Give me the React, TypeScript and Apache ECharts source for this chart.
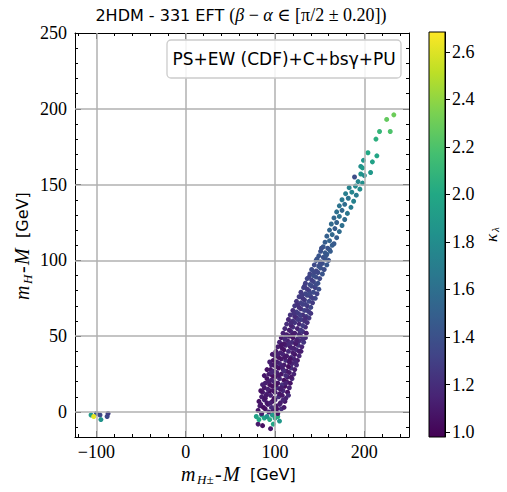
import React, { useEffect, useRef } from 'react';
import * as echarts from 'echarts';

// ---- axis / tick definitions ----
const xTicks = [-100, 0, 100, 200];
const xMinor = [-120, -80, -60, -40, -20, 20, 40, 60, 80, 120, 140, 160, 180, 220, 240];
const yTicks = [0, 50, 100, 150, 200, 250];
const yMinor = [-10, 10, 20, 30, 40, 60, 70, 80, 90, 110, 120, 130, 140, 160, 170, 180, 190, 210, 220, 230, 240];
const cbTicks = [1.0, 1.2, 1.4, 1.6, 1.8, 2.0, 2.2, 2.4, 2.6];
const X_MIN = -124, X_MAX = 250, Y_MIN = -16.5, Y_MAX = 250, K_MIN = 0.979, K_MAX = 2.684;

// ---- data: [m_H± - M, m_H - M, kappa_lambda] ----
const leftCluster = [
  [-106, -2, 1.9], [-100, -1, 1.45], [-96, -2, 1.35], [-95, -5, 1.85], [-88, -3, 1.35], [-87, -1, 1.3], [-103, -3, 2.62],
];
const bandLow = [
  [81, 1, 1.08], [85, -1, 1.12], [89, 2, 1.05], [93, 0, 1.15], [98, 1, 1.1], [103, -1, 1.07], [107, 2, 1.2],
  [83, 4, 1.1], [87, 3, 1.04], [92, 5, 1.12], [96, 3, 1.18], [101, 4, 1.06], [105, 5, 1.13], [110, 3, 1.1],
  [82, 7, 1.06], [88, 8, 1.15], [91, 6, 1.09], [97, 7, 1.03], [100, 8, 1.16], [106, 6, 1.11], [111, 7, 1.08],
  [85, 10, 1.12], [89, 9, 1.07], [95, 11, 1.14], [99, 9, 1.05], [104, 10, 1.2], [108, 11, 1.09], [112, 9, 1.13],
  [86, 13, 1.1], [91, 12, 1.16], [94, 14, 1.04], [100, 13, 1.12], [105, 12, 1.08], [109, 14, 1.17], [114, 13, 1.06],
  [88, 16, 1.09], [92, 15, 1.13], [97, 17, 1.06], [102, 16, 1.19], [106, 15, 1.1], [111, 17, 1.05], [116, 16, 1.14],
  [89, 19, 1.12], [94, 18, 1.05], [99, 20, 1.15], [103, 19, 1.08], [108, 18, 1.22], [113, 20, 1.1], [117, 19, 1.07],
  [91, 22, 1.06], [96, 21, 1.14], [100, 23, 1.09], [105, 22, 1.17], [110, 21, 1.05], [114, 23, 1.12], [119, 22, 1.18],
  [93, 25, 1.1], [97, 24, 1.05], [102, 26, 1.13], [107, 25, 1.08], [112, 24, 1.2], [116, 26, 1.11], [121, 25, 1.15],
  [95, 28, 1.08], [99, 27, 1.16], [104, 29, 1.04], [109, 28, 1.13], [113, 27, 1.09], [118, 29, 1.21], [122, 28, 1.12],
  [96, 31, 1.13], [101, 30, 1.07], [105, 32, 1.17], [110, 31, 1.1], [115, 30, 1.05], [119, 32, 1.15], [124, 31, 1.18],
  [98, 34, 1.05], [102, 33, 1.12], [107, 35, 1.09], [112, 34, 1.19], [116, 33, 1.07], [121, 35, 1.14], [125, 34, 1.1],
  [100, 37, 1.11], [104, 36, 1.06], [109, 38, 1.15], [113, 37, 1.1], [118, 36, 1.22], [122, 38, 1.08], [127, 37, 1.16],
  [101, 40, 1.09], [106, 39, 1.14], [110, 41, 1.06], [115, 40, 1.18], [120, 39, 1.11], [124, 41, 1.2], [129, 40, 1.13],
  [103, 43, 1.12], [108, 42, 1.07], [112, 44, 1.16], [117, 43, 1.1], [121, 42, 1.14], [126, 44, 1.23], [130, 43, 1.15],
  [105, 46, 1.15], [110, 45, 1.09], [114, 47, 1.13], [119, 46, 1.2], [123, 45, 1.1], [127, 47, 1.17], [132, 46, 1.24],
  [107, 49, 1.1], [111, 48, 1.18], [116, 50, 1.12], [120, 49, 1.07], [125, 48, 1.21], [129, 50, 1.15], [134, 49, 1.19],
  [109, 52, 1.14], [113, 51, 1.1], [118, 53, 1.19], [122, 52, 1.13], [127, 51, 1.16], [131, 53, 1.22], [135, 52, 1.12],
];
const bandLowExtra = [
  [84, 5, 1.09], [95, 6, 1.13], [102, 2, 1.06], [109, 8, 1.15], [90, 11, 1.1], [98, 14, 1.07], [107, 16, 1.12],
  [115, 11, 1.18], [84, 14, 1.06], [93, 20, 1.11], [101, 18, 1.05], [112, 19, 1.14], [118, 23, 1.09], [96, 26, 1.16],
  [104, 24, 1.1], [110, 27, 1.2], [99, 31, 1.08], [108, 30, 1.13], [117, 35, 1.06], [123, 33, 1.17], [103, 38, 1.12],
  [111, 36, 1.09], [119, 42, 1.15], [127, 40, 1.11], [107, 44, 1.07], [116, 45, 1.18], [124, 47, 1.13], [131, 48, 1.21],
  [112, 50, 1.16], [120, 51, 1.1], [128, 53, 1.19], [86, 18, 1.13], [88, 24, 1.08], [91, 28, 1.06], [94, 33, 1.12],
  [97, 38, 1.1],
];
const bandMid = [
  [111, 55, 1.18], [116, 54, 1.12], [120, 56, 1.22], [125, 55, 1.15], [129, 54, 1.25], [134, 56, 1.2],
  [113, 58, 1.2], [118, 57, 1.14], [122, 59, 1.24], [127, 58, 1.17], [131, 57, 1.27], [136, 59, 1.21],
  [115, 61, 1.16], [120, 60, 1.23], [124, 62, 1.19], [129, 61, 1.28], [133, 60, 1.22], [138, 62, 1.25],
  [117, 64, 1.22], [122, 63, 1.18], [126, 65, 1.26], [131, 64, 1.21], [135, 63, 1.3], [140, 65, 1.24],
  [120, 67, 1.2], [124, 66, 1.27], [129, 68, 1.23], [133, 67, 1.31], [138, 66, 1.26],
  [122, 70, 1.25], [127, 69, 1.21], [131, 71, 1.29], [136, 70, 1.24], [140, 69, 1.33],
  [124, 73, 1.23], [129, 72, 1.3], [133, 74, 1.26], [138, 73, 1.34], [142, 72, 1.28],
  [127, 76, 1.28], [131, 75, 1.24], [136, 77, 1.32], [140, 76, 1.29], [145, 75, 1.36],
  [129, 79, 1.26], [134, 78, 1.33], [138, 80, 1.3], [143, 79, 1.37], [147, 78, 1.32],
  [132, 82, 1.31], [136, 81, 1.28], [141, 83, 1.35], [145, 82, 1.3], [149, 81, 1.38],
  [134, 85, 1.3], [139, 84, 1.36], [143, 86, 1.33], [148, 85, 1.4],
  [136, 88, 1.34], [141, 87, 1.31], [146, 89, 1.38], [150, 88, 1.35],
  [139, 91, 1.33], [143, 90, 1.39], [148, 92, 1.36], [153, 91, 1.42],
  [141, 94, 1.37], [146, 93, 1.34], [151, 95, 1.41], [155, 94, 1.38],
  [144, 97, 1.36], [149, 96, 1.42], [153, 98, 1.39], [158, 97, 1.45],
  [146, 100, 1.4], [151, 99, 1.37], [156, 101, 1.44], [160, 100, 1.41],
  [149, 103, 1.43], [154, 102, 1.4], [158, 104, 1.47],
  [151, 106, 1.41], [156, 105, 1.46], [161, 107, 1.44],
  [154, 109, 1.45], [159, 108, 1.42], [164, 110, 1.49],
];
const bandMidExtra = [
  [118, 59, 1.19], [126, 61, 1.25], [134, 62, 1.2], [121, 65, 1.23], [128, 64, 1.28], [136, 67, 1.27],
  [125, 71, 1.22], [134, 71, 1.3], [142, 75, 1.31], [130, 77, 1.27], [139, 78, 1.35], [133, 83, 1.29],
  [146, 84, 1.37], [138, 89, 1.32], [144, 92, 1.35], [150, 97, 1.38], [147, 101, 1.42], [157, 103, 1.44],
  [152, 108, 1.4], [162, 106, 1.47],
];
const bandHigh = [
  [156, 112, 1.48], [161, 113, 1.52], [166, 111, 1.46], [158, 116, 1.5], [164, 117, 1.55], [169, 115, 1.49],
  [161, 120, 1.53], [167, 121, 1.47], [172, 119, 1.58], [163, 124, 1.56], [169, 125, 1.51], [175, 123, 1.6],
  [166, 128, 1.54], [172, 129, 1.62], [178, 127, 1.57], [169, 132, 1.6], [175, 133, 1.55], [181, 131, 1.65],
  [172, 136, 1.63], [178, 137, 1.58], [185, 135, 1.68], [175, 140, 1.66], [182, 141, 1.62], [188, 139, 1.72],
  [179, 144, 1.7], [186, 145, 1.75], [191, 143, 1.68], [183, 148, 1.73], [190, 149, 1.78], [195, 147, 1.8],
  [189, 155, 1.38], [193, 152, 1.76], [198, 151, 1.82], [196, 157, 1.85], [200, 156, 1.8],
  [196, 162, 1.82], [199, 166, 1.86], [198, 161, 1.9], [207, 158, 1.88],
];
const topPoints = [
  [204, 171, 2.0], [209, 165, 1.95], [214, 169, 1.98], [213, 180, 2.05], [217, 185, 2.1],
  [229, 185, 2.2], [225, 193, 2.27], [233, 196, 2.3],
];
const bottomRow = [
  [81, -8, 1.1], [86, -9, 1.05], [95, -11, 1.08],
  [79, -3, 1.95], [82, -5, 2.0], [85, -2, 1.9], [88, -4, 1.97], [91, -3, 1.85], [94, -5, 2.02],
  [97, -2, 1.9], [100, -4, 1.95], [103, -3, 2.05], [98, -8, 1.98], [105, -6, 1.88],
];

const viridis = ['#440154', '#482475', '#414487', '#355f8d', '#2a788e', '#21918c', '#22a884', '#44bf70', '#7ad151', '#bddf26', '#fde725'];

const SERIF = '"Liberation Serif", "DejaVu Serif", serif';
const SANS = '"DejaVu Sans", "Liberation Sans", sans-serif';
const GRID = { left: 75, top: 33, width: 334, height: 404 };
const CB = { left: 429, top: 32, width: 16, height: 405 };

function fmt(v: number) {
  return v < 0 ? '\u2212' + Math.abs(v) : String(v);
}

function axisBase(extra: any) {
  return {
    type: 'value',
    splitLine: { show: false },
    axisLine: { show: false, onZero: false, lineStyle: { color: '#000', width: 1 } },
    ...extra,
  };
}

// label made of pieces laid out horizontally in local coordinates
function mathLabel(pieces: { t: string; font: string; dx: number; dy: number }[], x: number, y: number, rotation: number) {
  return {
    type: 'group', x, y, rotation, z: 20,
    children: pieces.map((p) => ({
      type: 'text', x: p.dx, y: p.dy, z: 20,
      style: { text: p.t, font: p.font, fill: '#000', align: 'left', verticalAlign: 'middle' },
    })),
  };
}

const IT = `italic 20px ${SERIF}`;
const SUB = `italic 13px ${SERIF}`;
const GEV = `16px ${SANS}`;

export default function App() {
  const ref = useRef<HTMLDivElement>(null);
  useEffect(() => {
    if (!ref.current) return;
    const chart = echarts.init(ref.current, null, { renderer: 'svg' });
    const all = [...bottomRow, ...bandLow, ...bandLowExtra, ...bandMid, ...bandMidExtra, ...bandHigh, ...topPoints, ...leftCluster];

    const xMajor = (pos: string, labels: boolean) => axisBase({
      gridIndex: 0, position: pos, min: X_MIN, max: X_MAX,
      axisLine: { show: true, onZero: false, lineStyle: { color: '#000', width: 1 } },
      axisTick: { show: true, inside: true, length: 6, customValues: xTicks, lineStyle: { color: '#000' } },
      axisLabel: labels
        ? { show: true, customValues: xTicks, formatter: fmt, fontFamily: SERIF, fontSize: 18, color: '#000', margin: 6 }
        : { show: false },
    });
    const xMin = (pos: string) => axisBase({
      gridIndex: 0, position: pos, min: X_MIN, max: X_MAX,
      axisTick: { show: true, inside: true, length: 3, customValues: xMinor, lineStyle: { color: '#000' } },
      axisLabel: { show: false },
    });
    const yMajor = (pos: string, labels: boolean) => axisBase({
      gridIndex: 0, position: pos, min: Y_MIN, max: Y_MAX,
      axisLine: { show: true, onZero: false, lineStyle: { color: '#000', width: 1 } },
      axisTick: { show: true, inside: true, length: 6, customValues: yTicks, lineStyle: { color: '#000' } },
      axisLabel: labels
        ? { show: true, customValues: yTicks, formatter: fmt, fontFamily: SERIF, fontSize: 18, color: '#000', margin: 8 }
        : { show: false },
    });
    const yMin = (pos: string) => axisBase({
      gridIndex: 0, position: pos, min: Y_MIN, max: Y_MAX,
      axisTick: { show: true, inside: true, length: 3, customValues: yMinor, lineStyle: { color: '#000' } },
      axisLabel: { show: false },
    });

    const gridLines = [
      ...xTicks.map((v) => ({ xAxis: v })),
      ...yTicks.filter((v) => v < Y_MAX).map((v) => ({ yAxis: v })),
    ];

    const stops = viridis.map((c, i) => ({ offset: i / (viridis.length - 1), color: c }));

    chart.setOption({
      animation: false,
      grid: [
        { ...GRID, containLabel: false },
        { ...CB, containLabel: false },
      ],
      xAxis: [
        xMajor('bottom', true), xMin('bottom'), xMajor('top', false), xMin('top'),
        { type: 'value', gridIndex: 1, show: false, min: 0, max: 1 },
      ],
      yAxis: [
        yMajor('left', true), yMin('left'), yMajor('right', false), yMin('right'),
        axisBase({
          gridIndex: 1, position: 'right', min: K_MIN, max: K_MAX,
          axisLine: { show: true, onZero: false, lineStyle: { color: '#000', width: 1 } },
          axisTick: { show: true, inside: false, length: 5, customValues: cbTicks, lineStyle: { color: '#000' } },
          axisLabel: { show: true, customValues: cbTicks, formatter: (v: number) => v.toFixed(1), fontFamily: SERIF, fontSize: 18, color: '#000', margin: 7 },
        }),
      ],
      visualMap: [{
        type: 'continuous', show: false, min: K_MIN, max: K_MAX, dimension: 2, seriesIndex: 0,
        inRange: { color: viridis },
      }],
      series: [{
        type: 'scatter', xAxisIndex: 0, yAxisIndex: 0, data: all, symbolSize: 5,
        itemStyle: { opacity: 1 },
        silent: true,
        markLine: {
          silent: true, symbol: ['none', 'none'], label: { show: false },
          lineStyle: { color: '#b0b0b0', width: 1.5, type: 'solid' },
          emphasis: { disabled: true },
          data: gridLines,
        },
      }],
      graphic: [
        {
          type: 'text', x: 241, y: 15, z: 20,
          style: {
            text: '{a|2HDM - 331 EFT }{b|(}{g|β}{b| − }{g|α}{b| ∈ [π/2 ± 0.20])}',
            align: 'center', verticalAlign: 'middle', fill: '#000',
            rich: {
              a: { fontFamily: SANS, fontSize: 16, fill: '#000' },
              b: { fontFamily: SERIF, fontSize: 18, fill: '#000' },
              g: { fontFamily: SERIF, fontStyle: 'italic', fontSize: 18, fill: '#000' },
            },
          },
        },
        {
          type: 'rect', z: 20,
          shape: { x: 167, y: 40, width: 234, height: 38, r: 4 },
          style: { fill: 'rgba(255,255,255,0.85)', stroke: '#cccccc', lineWidth: 1.3 },
        },
        {
          type: 'text', x: 284, y: 59, z: 21,
          style: { text: 'PS+EW (CDF)+C+bsγ+PU', font: `17px ${SANS}`, fill: '#000', align: 'center', verticalAlign: 'middle' },
        },
        // x-axis name: m_{H±}-M [GeV]
        mathLabel([
          { t: 'm', font: IT, dx: 0, dy: 0 },
          { t: 'H±', font: SUB, dx: 16, dy: 5 },
          { t: '-', font: IT, dx: 34, dy: 0 },
          { t: 'M', font: IT, dx: 42, dy: 0 },
          { t: '[GeV]', font: GEV, dx: 69, dy: 0 },
        ], 181, 474, 0),
        // y-axis name: m_H-M [GeV], rotated (reads bottom to top)
        mathLabel([
          { t: 'm', font: IT, dx: 0, dy: 0 },
          { t: 'H', font: SUB, dx: 16, dy: 5 },
          { t: '-', font: IT, dx: 27, dy: 0 },
          { t: 'M', font: IT, dx: 35, dy: 0 },
          { t: '[GeV]', font: GEV, dx: 62, dy: 0 },
        ], 22, 300, Math.PI / 2),
        {
          type: 'rect', z: 1,
          shape: { x: CB.left, y: CB.top, width: CB.width, height: CB.height },
          style: {
            fill: new echarts.graphic.LinearGradient(0, 1, 0, 0, stops),
            stroke: '#000', lineWidth: 1,
          },
        },
        mathLabel([
          { t: 'κ', font: `italic 17px ${SERIF}`, dx: 0, dy: 0 },
          { t: 'λ', font: `italic 11px ${SERIF}`, dx: 10, dy: 4 },
        ], 491, 242, Math.PI / 2),
      ],
    });
    return () => chart.dispose();
  }, []);
  return <div ref={ref} style={{ position: 'absolute', left: 0, top: 0, width: 507, height: 492 }} />;
}
